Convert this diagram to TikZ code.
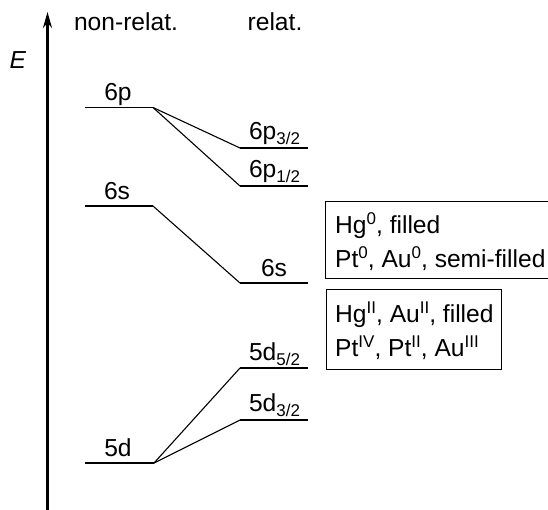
\documentclass[tikz,border=0pt]{standalone}
\usepackage{fontspec}
\setmainfont{Liberation Sans}
\usetikzlibrary{arrows.meta}
\newcommand\mysup[1]{\raisebox{9pt}{\fontsize{17}{17}\selectfont #1}}
\newcommand\mysub[1]{\raisebox{-5pt}{\fontsize{17}{17}\selectfont #1}}
\begin{document}
\begin{tikzpicture}[x=1pt,y=-1pt,
  font=\fontsize{24.6}{34}\selectfont,
  level/.style={line width=1.2pt},
  link/.style={line width=1.1pt},
  lbl/.style={anchor=base, inner sep=0pt},
  txt/.style={anchor=base west, inner sep=0pt},
  infobox/.style={draw, line width=1.2pt, anchor=north west, inner sep=0pt}]
\useasboundingbox (0,0) rectangle (548,509);
\fill[white] (0,0) rectangle (548,509);
% axis
\coordinate (axb) at (47.5,515);
\coordinate (axt) at (47.5,12);
\draw[line width=2.3pt, -{Stealth[length=16pt,width=9pt]}] (axb) -- (axt);
\node[lbl] (E) at (18,68) {\textit{E}};
\node[lbl] (hnr) at (126,30) {non-relat.};
\node[lbl] (hr) at (275,30) {relat.};
% level coordinates
\coordinate (p6L) at (85,107.5);  \coordinate (p6R) at (153,107.5);
\coordinate (p32L) at (240,148);  \coordinate (p32R) at (308,148);
\coordinate (p12L) at (240,186);  \coordinate (p12R) at (308,186);
\coordinate (s6L) at (85,206);    \coordinate (s6R) at (153,206);
\coordinate (s6rL) at (240,283);  \coordinate (s6rR) at (308,283);
\coordinate (d5L) at (85,463);    \coordinate (d5R) at (154,463);
\coordinate (d52L) at (240,368);  \coordinate (d52R) at (308,368);
\coordinate (d32L) at (240,420);  \coordinate (d32R) at (308,420);
% levels
\draw[level] (p6L) -- (p6R);
\draw[level] (p32L) -- (p32R);
\draw[level] (p12L) -- (p12R);
\draw[level] (s6L) -- (s6R);
\draw[level] (s6rL) -- (s6rR);
\draw[level] (d5L) -- (d5R);
\draw[level] (d52L) -- (d52R);
\draw[level] (d32L) -- (d32R);
% connectors
\draw[link] (p6R) -- (p32L);
\draw[link] (p6R) -- (p12L);
\draw[link] (s6R) -- (s6rL);
\draw[link] (d5R) -- (d52L);
\draw[link] (d5R) -- (d32L);
% labels
\node[lbl] (l6p) at (118,100.5) {6p};
\node[lbl] (l6s) at (117,199) {6s};
\node[lbl] (l5d) at (118,456.5) {5d};
\node[lbl] (l6p32) at (274.5,139.5) {6p\mysub{3/2}};
\node[lbl] (l6p12) at (274.5,177.5) {6p\mysub{1/2}};
\node[lbl] (l6sr) at (274,276) {6s};
\node[lbl] (l5d52) at (274.5,360) {5d\mysub{5/2}};
\node[lbl] (l5d32) at (274.5,411) {5d\mysub{3/2}};
% boxes
\node[infobox, minimum width=240pt, minimum height=77pt] (box1) at (325,201) {};
\node[txt] (b1a) at (335,233) {Hg\mysup{0}, filled};
\node[txt] (b1b) at (335,267) {Pt\mysup{0}, Au\mysup{0}, semi-filled};
\node[infobox, minimum width=175pt, minimum height=80pt] (box2) at (326,289) {};
\node[txt] (b2a) at (335,322.5) {Hg\mysup{II}, Au\mysup{II}, filled};
\node[txt] (b2b) at (335,356.5) {Pt\mysup{IV}, Pt\mysup{II}, Au\mysup{III}};
\end{tikzpicture}
\end{document}
